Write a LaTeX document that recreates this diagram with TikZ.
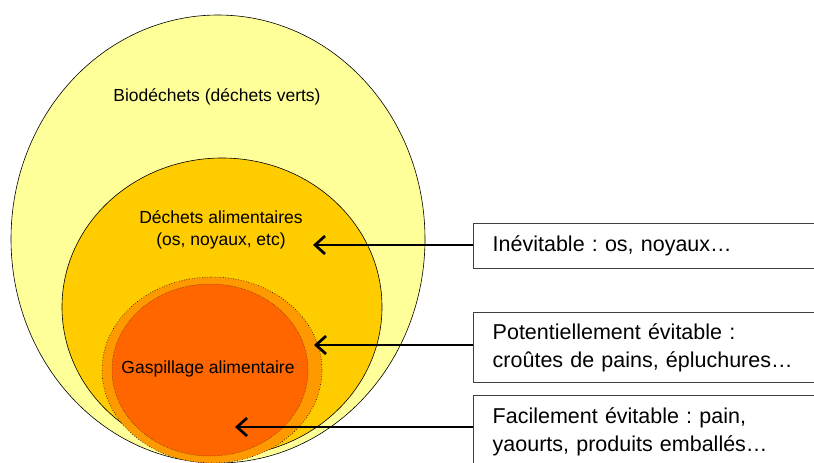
\documentclass[tikz,border=0pt]{standalone}
\usepackage{fontspec}
\setmainfont{Liberation Sans}
\usetikzlibrary{arrows.meta}
\definecolor{bioY}{HTML}{FFFF99}
\definecolor{alimY}{HTML}{FFCC00}
\definecolor{ringO}{HTML}{FF9900}
\definecolor{gaspO}{HTML}{FF6600}
\definecolor{boxline}{HTML}{404040}
\tikzset{
  lbl/.style={font=\fontsize{17.5}{22}\selectfont, align=center, inner sep=0pt},
  infobox/.style={draw=boxline, line width=1.4pt, fill=white, anchor=north west,
    minimum width=339pt, text width=315pt, inner xsep=19pt, inner ysep=0pt,
    align=left, font=\fontsize{21.5}{28}\selectfont},
  arr/.style={line width=2.7pt, -{Straight Barb[length=10pt,width=18pt,line width=2.7pt]}}
}
\begin{document}
\frenchspacing
\begin{tikzpicture}[x=1pt,y=-1pt]
\useasboundingbox (0,0) rectangle (814,463);
\clip (0,0) rectangle (814,463);
% ellipses
\filldraw[fill=bioY, draw=black, line width=0.6pt] (218,239) ellipse [x radius=207pt, y radius=224pt];
\filldraw[fill=alimY, draw=black, line width=0.6pt] (222,307) ellipse [x radius=160pt, y radius=149pt];
\fill[ringO] (212,370) ellipse [x radius=110pt, y radius=93pt];
\draw[black, line width=0.6pt, dotted] (212,370) ellipse [x radius=110pt, y radius=93pt];
\fill[gaspO] (210,370) ellipse [x radius=98pt, y radius=86pt];
\draw[black!60!gaspO, line width=0.5pt, densely dotted] (210,370) ellipse [x radius=98pt, y radius=86pt];
% labels
\node[lbl] (bio) at (217,97) {Biodéchets (déchets verts)};
\node[lbl] (alim) at (221,230) {Déchets alimentaires\\(os, noyaux, etc)};
\node[lbl] (gasp) at (208,369) {Gaspillage alimentaire};
% boxes
\node[infobox, minimum height=45pt] (b1) at (473,223) {Inévitable : os, noyaux…};
\node[infobox, minimum height=70pt] (b2) at (473,312) {Potentiellement évitable :\\croûtes de pains, épluchures…};
\node[infobox, minimum height=72pt] (b3) at (473,395) {Facilement évitable : pain,\\yaourts, produits emballés…};
% arrows
\coordinate (t1) at (313,245);
\coordinate (t2) at (314,345);
\coordinate (t3) at (235,427);
\draw[arr] (b1.west |- t1) -- (t1);
\draw[arr] (b2.west |- t2) -- (t2);
\draw[arr] (b3.west |- t3) -- (t3);
\end{tikzpicture}
\end{document}
